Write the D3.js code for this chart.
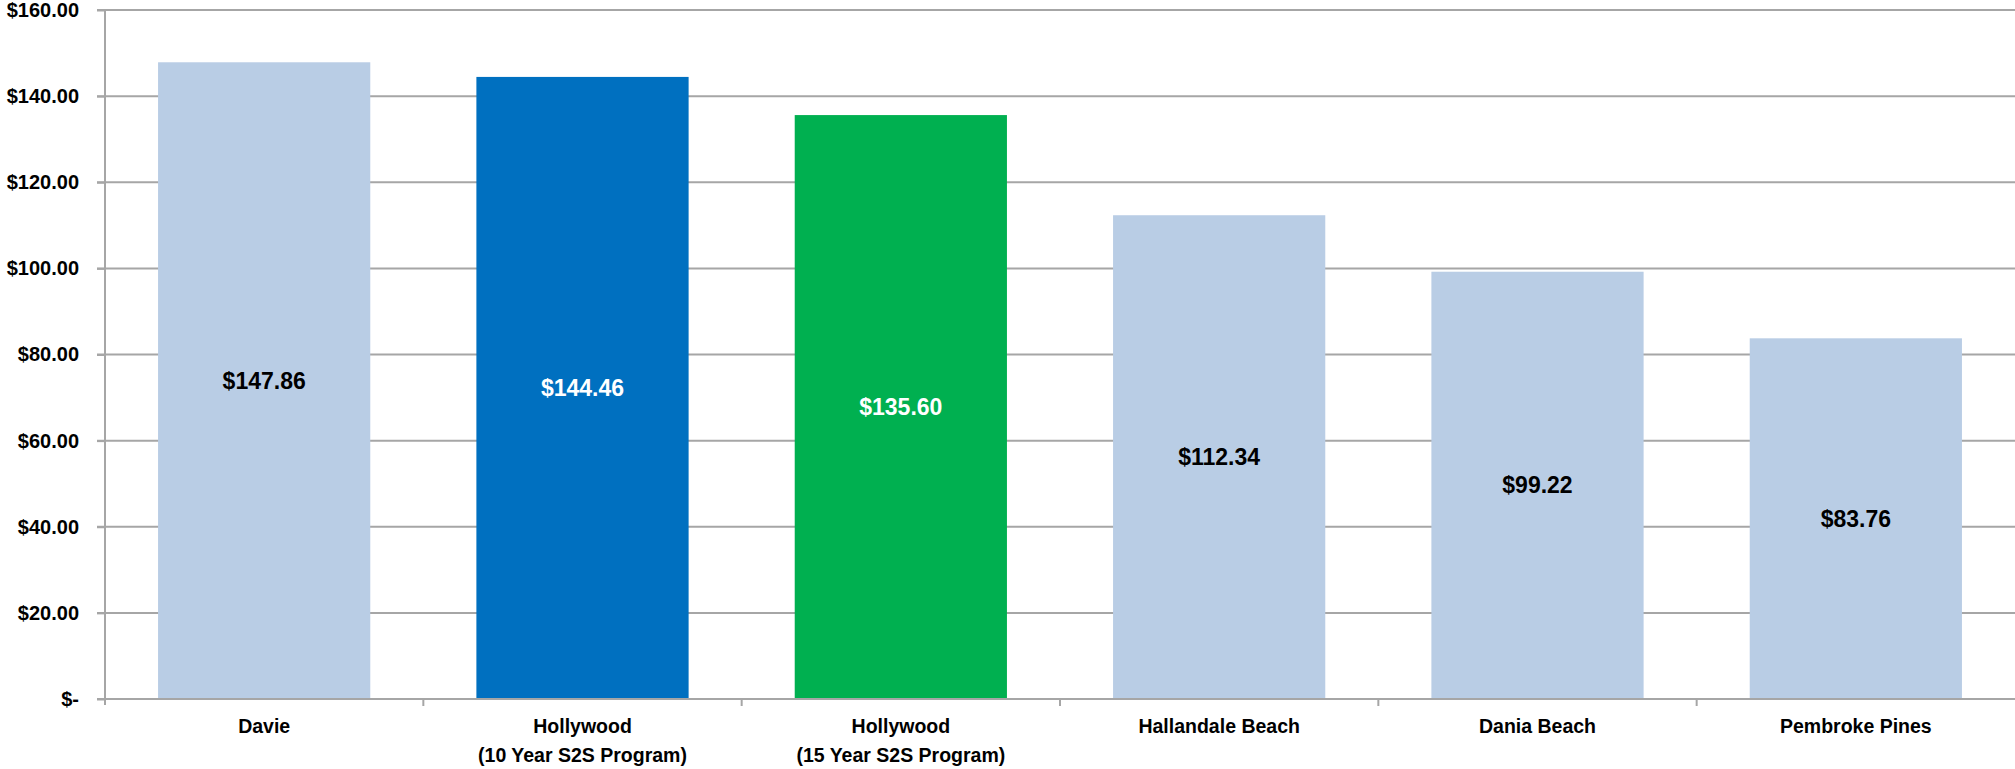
<!DOCTYPE html>
<html>
<head>
<meta charset="utf-8">
<script src="https://cdn.jsdelivr.net/npm/d3@7"></script>
<style>
  html, body { margin: 0; padding: 0; background: #fff; }
  svg { display: block; }
  text { font-family: "Liberation Sans", Arial, sans-serif; font-weight: bold; }
</style>
</head>
<body>
<svg id="chart" width="2015" height="769"></svg>
<script>
// Cost per unit by municipality
const categories = [
  ["Davie"],
  ["Hollywood", "(10 Year S2S Program)"],
  ["Hollywood", "(15 Year S2S Program)"],
  ["Hallandale Beach"],
  ["Dania Beach"],
  ["Pembroke Pines"]
];
const values = [147.86, 144.46, 135.60, 112.34, 99.22, 83.76];
const barColors = ["#B9CDE5", "#0070C0", "#00B050", "#B9CDE5", "#B9CDE5", "#B9CDE5"];
const labelColors = ["#000", "#fff", "#fff", "#000", "#000", "#000"];
const yTicks = [0, 20, 40, 60, 80, 100, 120, 140, 160];

const W = 2015, H = 769;
const margin = { left: 105, right: 0, top: 10, bottom: 70 };
const svg = d3.select("#chart");

const x = d3.scaleBand()
  .domain(d3.range(categories.length))
  .range([margin.left, W - margin.right])
  .paddingInner(1 / 3)
  .paddingOuter(1 / 6);

const y = d3.scaleLinear().domain([0, 160]).range([H - margin.bottom, margin.top]);

const fmt = v => v === 0 ? "$-" : "$" + d3.format(",.2f")(v);

// Horizontal gridlines
svg.append("g")
  .selectAll("line")
  .data(yTicks.filter(d => d > 0))
  .join("line")
  .attr("x1", margin.left - 8)
  .attr("x2", W)
  .attr("y1", d => y(d))
  .attr("y2", d => y(d))
  .attr("stroke", "#A6A6A6")
  .attr("stroke-width", 2);

// Bars
svg.append("g")
  .selectAll("rect")
  .data(values)
  .join("rect")
  .attr("x", (d, i) => x(i))
  .attr("width", x.bandwidth())
  .attr("y", d => y(d))
  .attr("height", d => y(0) - y(d))
  .attr("fill", (d, i) => barColors[i]);

// Value labels in the middle of each bar
svg.append("g")
  .selectAll("text")
  .data(values)
  .join("text")
  .attr("x", (d, i) => x(i) + x.bandwidth() / 2)
  .attr("y", d => (y(d) + y(0)) / 2)
  .attr("text-anchor", "middle")
  .attr("dominant-baseline", "central")
  .attr("font-size", 23)
  .attr("fill", (d, i) => labelColors[i])
  .text(d => fmt(d));

// Y axis
const yAxis = d3.axisLeft(y)
  .tickValues(yTicks)
  .tickFormat(fmt)
  .tickSize(8)
  .tickPadding(18);
const gy = svg.append("g")
  .attr("transform", `translate(${margin.left},0)`)
  .call(yAxis);
gy.select(".domain").attr("stroke", "#A6A6A6").attr("stroke-width", 2)
  .attr("d", `M0,${y(160)}V${y(0) + 6}`);
gy.selectAll(".tick line").attr("stroke", "#A6A6A6").attr("stroke-width", 2);
gy.selectAll(".tick text")
  .attr("font-size", 20)
  .attr("font-family", "'Liberation Sans', Arial, sans-serif")
  .attr("font-weight", "bold")
  .attr("fill", "#000");

// X axis baseline and category separators
const base = svg.append("g");
base.append("line")
  .attr("x1", margin.left - 8).attr("x2", W)
  .attr("y1", y(0)).attr("y2", y(0))
  .attr("stroke", "#A6A6A6").attr("stroke-width", 2);
const step = x.step();
base.selectAll("line.sep")
  .data(d3.range(1, categories.length))
  .join("line")
  .attr("class", "sep")
  .attr("x1", i => x(i) - step * x.paddingInner() / 2)
  .attr("x2", i => x(i) - step * x.paddingInner() / 2)
  .attr("y1", y(0))
  .attr("y2", y(0) + 7)
  .attr("stroke", "#A6A6A6")
  .attr("stroke-width", 2);

// Category labels
const cat = svg.append("g")
  .selectAll("text")
  .data(categories)
  .join("text")
  .attr("text-anchor", "middle")
  .attr("font-size", 19.5)
  .attr("fill", "#000")
  .attr("transform", (d, i) => `translate(${x(i) + x.bandwidth() / 2},${y(0) + 34})`);
cat.selectAll("tspan")
  .data(d => d)
  .join("tspan")
  .attr("x", 0)
  .attr("dy", (d, j) => j === 0 ? 0 : 29)
  .text(d => d);
</script>
</body>
</html>
